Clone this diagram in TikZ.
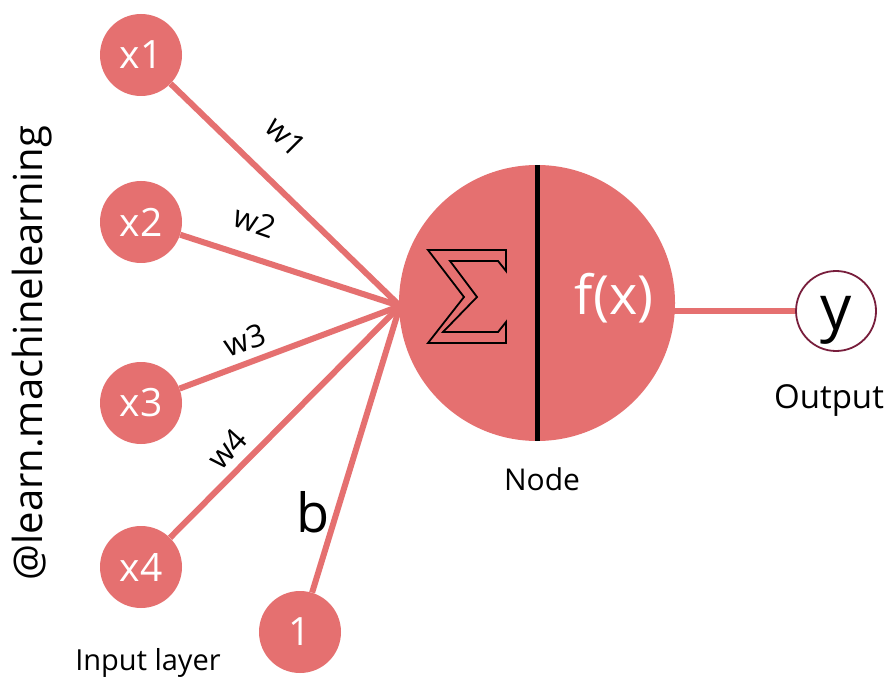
\documentclass[tikz,border=0pt]{standalone}
\usepackage{fontspec}
\setmainfont{Open Sans}
\definecolor{salmon}{RGB}{229,112,112}
\definecolor{ydark}{RGB}{120,30,60}
\begin{document}
\begin{tikzpicture}[x=1pt,y=-1pt,
  inp/.style={circle,fill=salmon,minimum size=82pt,inner sep=0pt,text=white,font=\fontsize{39}{42}\selectfont},
  conn/.style={draw=salmon,line width=6pt},
  wlab/.style={font=\fontsize{31}{34}\selectfont,text=black,inner sep=1pt},
  lab/.style={font=\fontsize{30}{33}\selectfont,text=black}]
\useasboundingbox[fill=white] (0,0) rectangle (896,684);
\coordinate (hub) at (400,306);
\node[inp] (x1) at (141,55) {x1};
\node[inp] (x2) at (141,222) {x2};
\node[inp] (x3) at (141,403) {x3};
\node[inp] (x4) at (141,567) {x4};
\node[inp] (one) at (300,632) {1};
\draw[conn] (x1) -- (hub);
\draw[conn] (x2) -- (hub);
\draw[conn] (x3) -- (hub);
\draw[conn] (x4) -- (hub);
\draw[conn] (one) -- (hub);
\node[circle,fill=salmon,minimum size=276pt,inner sep=0pt] (big) at (537,303) {};
\coordinate (bigout) at (674,311);
\node[circle,draw=ydark,line width=1.8pt,fill=white,minimum size=80pt,inner sep=0pt] (y) at (836,311) {};
\node[font=\fontsize{62}{66}\selectfont,anchor=base] (ylet) at (836,330) {y};
\draw[conn] (bigout) -- (y.west);
\draw[line width=5pt] (big.north) -- (big.south);
% sigma outline
\draw[black,line width=1.8pt,line join=miter]
  (428,250) -- (506,250) -- (506,271) -- (498,261) -- (450,261) -- (477,297)
  -- (443,332) -- (498,332) -- (506,322) -- (506,343) -- (428,343) -- (464,297) -- cycle;
\node[text=white,font=\fontsize{54}{58}\selectfont] (fx) at (614,298) {f(x)};
% weight labels
\node[wlab,rotate=-45] (w1) at (286,136) {w1};
\node[wlab,rotate=-19] (w2) at (255,222) {w2};
\node[wlab,rotate=19] (w3) at (245,340) {w3};
\node[wlab,rotate=48] (w4) at (227,449) {w4};
\node[font=\fontsize{54}{58}\selectfont] (b) at (313,512) {b};
\node[lab] (nodelab) at (542,479) {Node};
\node[lab,font=\fontsize{33}{36}\selectfont] (outlab) at (829,400) {Output};
\node[lab,font=\fontsize{29}{32}\selectfont] (inlab) at (148,663) {Input layer};
\node[font=\fontsize{40}{44}\selectfont,rotate=90] (handle) at (32,353) {@learn.machinelearning};
\end{tikzpicture}
\end{document}
